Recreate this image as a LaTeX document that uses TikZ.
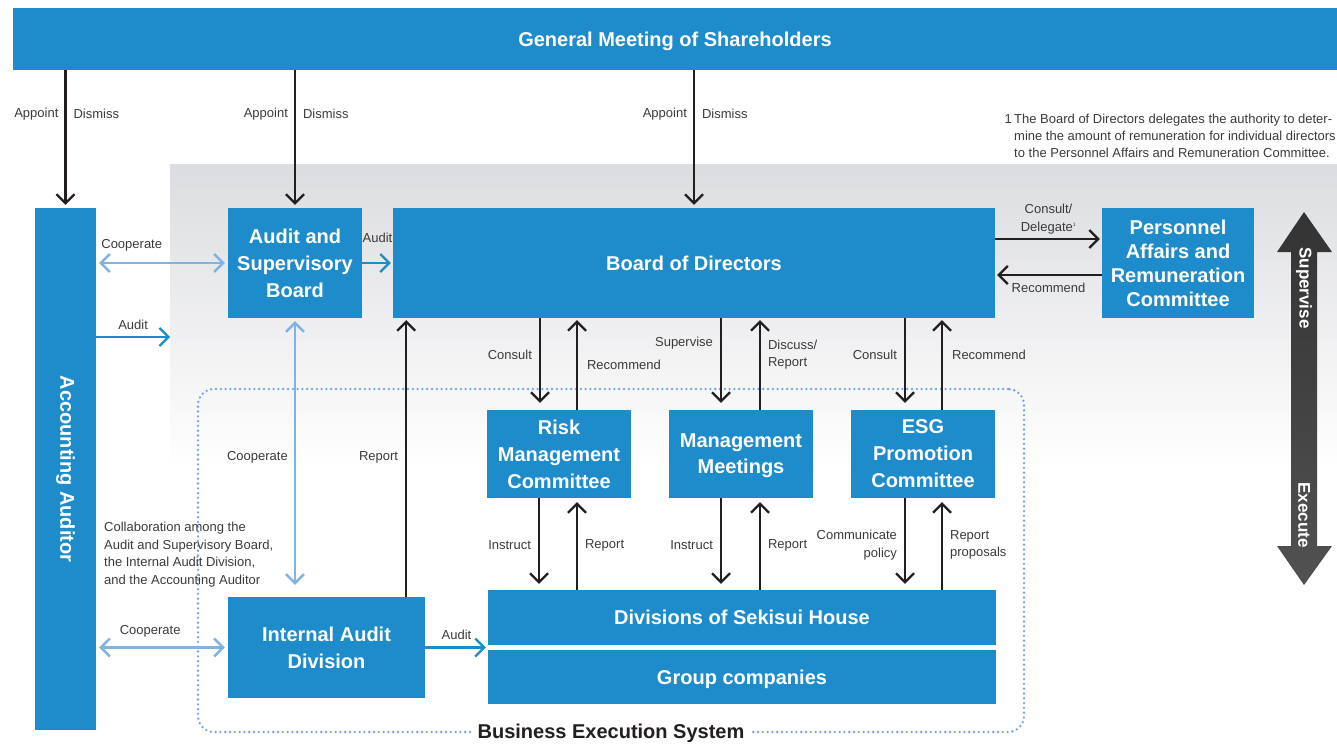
\documentclass[tikz,border=0pt]{standalone}
\usepackage{fontspec}
\setmainfont{Liberation Sans}
\usetikzlibrary{arrows.meta,positioning,calc}
\definecolor{skblue}{HTML}{1E8BCB}
\definecolor{skcoop}{HTML}{80B3E3}
\definecolor{skink}{HTML}{231F20}
\definecolor{sktext}{HTML}{3A3A3A}
\definecolor{skgray}{HTML}{DCDDE0}

\begin{document}
\begin{tikzpicture}[x=1pt,y=-1pt,
    box/.style={fill=skblue,text=white,align=center,inner sep=0pt,text depth=0pt,
      font=\fontsize{20}{27}\selectfont\bfseries},
    lbl/.style={text=sktext,inner sep=1pt,align=center,
      font=\fontsize{13}{17.5}\selectfont},
    skbarb/.tip={Straight Barb[length=9pt,width=18pt]},
    blk/.style={draw=skink,line width=2.2pt,-skbarb},
    aud/.style={draw=skblue,line width=2.2pt,-skbarb},
    coop/.style={draw=skcoop,line width=2.4pt,skbarb-skbarb,shorten <=3pt,shorten >=3pt},
    execsys/.style={draw=skcoop!90!blue,line width=2.6pt,dash pattern=on 0pt off 4.8pt,
      line cap=round,rounded corners=16pt}
  ]
  \useasboundingbox (0,0) rectangle (1337,746);
  % background of the supervising part
  \shade[top color=skgray,bottom color=white] (170,165) rectangle (1337,470);

  \node[execsys,minimum width=826,minimum height=343] (exec) at (611,560.5) {};
  \node[fill=white,text=skink,inner xsep=6pt,inner ysep=1pt,
    font=\fontsize{20}{24}\selectfont\bfseries] (execlbl) at (exec.south) {Business Execution System};

  % organs
  \node[box,minimum width=1324,minimum height=62] (gm) at (675,39) {General Meeting of Shareholders};
  \node[box,text depth={},minimum width=61,minimum height=522] (aa) at (65.5,469) {\rotatebox{-90}{Accounting Auditor}};
  \node[box,minimum width=134,minimum height=110] (asb) at (295,263) {Audit and\\Supervisory\\Board};
  \node[box,minimum width=602,minimum height=110] (bod) at (694,263) {Board of Directors};
  \node[box,minimum width=152,minimum height=110,font=\fontsize{20}{24}\selectfont\bfseries]
    (parc) at (1178,263) {Personnel\\Affairs and\\Remuneration\\Committee};
  \node[box,minimum width=144,minimum height=88] (risk) at (559,454) {Risk\\Management\\Committee};
  \node[box,minimum width=144,minimum height=88,font=\fontsize{20}{26}\selectfont\bfseries]
    (mm) at (741,454) {Management\\Meetings};
  \node[box,minimum width=144,minimum height=88] (esg) at (923,454) {ESG\\Promotion\\Committee};
  \node[box,minimum width=508,minimum height=55] (div) at (742,617.5) {Divisions of Sekisui House};
  \node[box,minimum width=508,minimum height=54] (grp) at (742,677) {Group companies};
  \node[box,minimum width=197,minimum height=101] (iad) at (326.5,647.5) {Internal Audit\\Division};

  % supervise / execute
  \shade[top color=black!80,bottom color=black!68]
    (1304,212) -- (1332,252) -- (1317,252) -- (1317,546) -- (1332,546) -- (1304,585)
    -- (1277,546) -- (1291,546) -- (1291,252) -- (1277,252) -- cycle;
  \node[rotate=-90,text=white,font=\fontsize{17}{17}\selectfont\bfseries] (sup) at (1304,288) {Supervise};
  \node[rotate=-90,text=white,font=\fontsize{17}{17}\selectfont\bfseries] (exe) at (1304,515) {Execute};

  % appointment
  \foreach \n in {aa,asb,bod}
    \draw[blk,shorten >=3pt] (gm.south -| \n.north) -- (\n.north)
      node[lbl,pos=0.32,left=5pt] {Appoint} node[lbl,pos=0.32,right=6pt] {Dismiss};

  % audits and cooperation
  \coordinate (grayedge) at (170,337);
  \draw[coop] (aa.east |- asb.west) -- (asb.west) node[lbl,pos=0.27,above=10pt] {Cooperate};
  \draw[aud] (aa.east |- grayedge) -- (grayedge) node[lbl,midway,above=5pt] {Audit};
  \draw[aud,shorten >=2pt] (asb.east) -- (bod.west) node[lbl,midway,above=18pt] {Audit};
  \draw[coop,shorten >=12pt] (asb.south) -- (asb.south |- iad.north)
    node[lbl,midway,left=5pt] {Cooperate};
  \draw[blk,shorten >=2pt] ([xshift=-19pt]iad.north east) -- ([xshift=-19pt]iad.north east |- bod.south)
    node[lbl,midway,left=6pt] {Report};
  \draw[coop] (aa.east |- iad.west) -- (iad.west) node[lbl,pos=0.41,above=8pt] {Cooperate};
  \draw[aud,shorten >=2pt] (iad.east) -- (iad.east -| div.west) node[lbl,midway,above=6pt] {Audit};

  % board and committees
  \draw[blk,shorten >=7pt] ([xshift=-19pt]risk.north |- bod.south) -- ([xshift=-19pt]risk.north)
    node[lbl,pos=0.4,left=6pt] {Consult};
  \draw[blk,shorten >=2pt] ([xshift=18pt]risk.north) -- ([xshift=18pt]risk.north |- bod.south)
    node[lbl,pos=0.49,right=8pt] {Recommend};
  \draw[blk,shorten >=7pt] ([xshift=-20pt]mm.north |- bod.south) -- ([xshift=-20pt]mm.north)
    node[lbl,pos=0.27,left=6pt] {Supervise};
  \draw[blk,shorten >=2pt] ([xshift=19pt]mm.north) -- ([xshift=19pt]mm.north |- bod.south)
    node[lbl,pos=0.6,right=6pt,align=left] {Discuss/\\Report};
  \draw[blk,shorten >=7pt] ([xshift=-18pt]esg.north |- bod.south) -- ([xshift=-18pt]esg.north)
    node[lbl,pos=0.4,left=6pt] {Consult};
  \draw[blk,shorten >=2pt] ([xshift=19pt]esg.north) -- ([xshift=19pt]esg.north |- bod.south)
    node[lbl,pos=0.6,right=8pt] {Recommend};

  % committees and divisions
  \draw[blk,shorten >=6pt] ([xshift=-20pt]risk.south) -- ([xshift=-20pt]risk.south |- div.north)
    node[lbl,pos=0.51,left=6pt] {Instruct};
  \draw[blk,shorten >=4pt] ([xshift=18pt]risk.south |- div.north) -- ([xshift=18pt]risk.south)
    node[lbl,pos=0.49,right=6pt] {Report};
  \draw[blk,shorten >=6pt] ([xshift=-20pt]mm.south) -- ([xshift=-20pt]mm.south |- div.north)
    node[lbl,pos=0.51,left=6pt] {Instruct};
  \draw[blk,shorten >=4pt] ([xshift=19pt]mm.south |- div.north) -- ([xshift=19pt]mm.south)
    node[lbl,pos=0.49,right=6pt] {Report};
  \draw[blk,shorten >=6pt] ([xshift=-18pt]esg.south) -- ([xshift=-18pt]esg.south |- div.north)
    node[lbl,pos=0.51,left=6pt,align=right] {Communicate\\policy};
  \draw[blk,shorten >=4pt] ([xshift=19pt]esg.south |- div.north) -- ([xshift=19pt]esg.south)
    node[lbl,pos=0.49,right=6pt,align=left] {Report\\proposals};

  % remuneration committee
  \draw[blk,shorten >=2pt] ([yshift=24pt]bod.east) -- ([yshift=24pt]bod.east -| parc.west)
    node[lbl,midway,above=3pt] {Consult/\\Delegate\textsuperscript{\tiny 1}};
  \draw[blk,shorten >=2pt] ([yshift=-12pt]parc.west) -- ([yshift=-12pt]parc.west -| bod.east)
    node[lbl,midway,below=6pt] {Recommend};

  % notes
  \node[lbl,anchor=north west,align=left] (collab) at (103,521)
    {Collaboration among the\\Audit and Supervisory Board,\\the Internal Audit Division,\\and the Accounting Auditor};
  \node[lbl,anchor=north east] (fnnum) at (1013,113) {1};
  \node[lbl,anchor=north west,align=left,font=\fontsize{13}{17}\selectfont] (fn) at (1013,113)
    {The Board of Directors delegates the authority to deter-\\mine the amount of remuneration for individual directors\\to the Personnel Affairs and Remuneration Committee.};
\end{tikzpicture}
\end{document}
